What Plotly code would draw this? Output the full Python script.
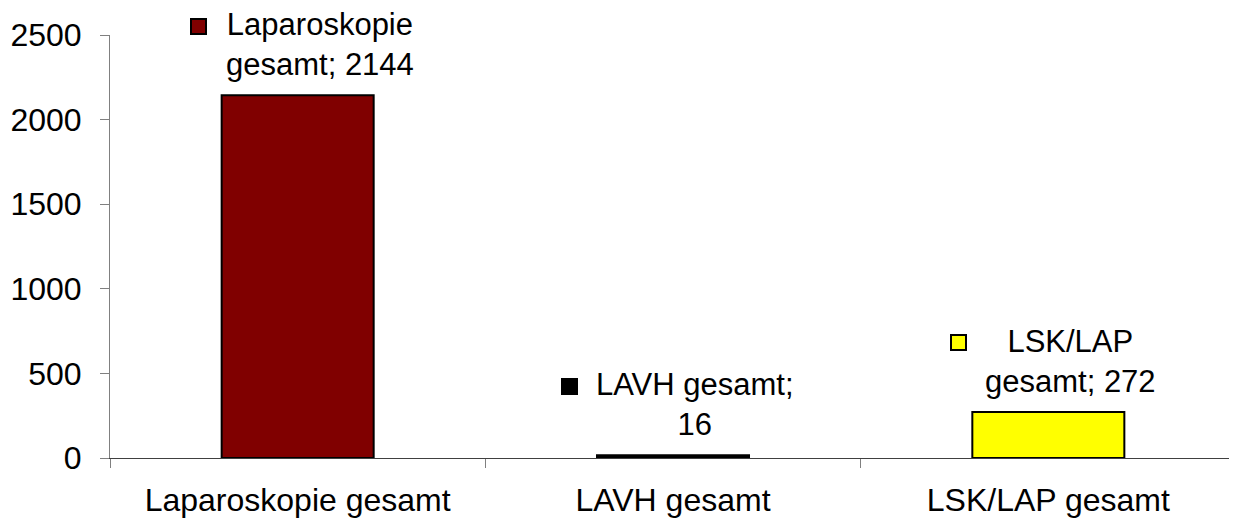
import plotly.graph_objects as go

categories = ["Laparoskopie gesamt", "LAVH gesamt", "LSK/LAP gesamt"]
values = [2144, 16, 272]
label_texts = ["Laparoskopie<br>gesamt; 2144", "LAVH gesamt;<br>16", "LSK/LAP<br>gesamt; 272"]
y_ticks = [0, 500, 1000, 1500, 2000, 2500]

# styling (not data)
colors = ["#800000", "#000000", "#FFFF00"]
key_xshift = [-99, -104, -90]
FONT = "Liberation Sans, Arial, sans-serif"

fig = go.Figure()
fig.add_trace(go.Bar(
    x=categories, y=values, width=0.405,
    marker=dict(color=colors, line=dict(color="#000000", width=2)),
    showlegend=False, hoverinfo="skip",
))

annotations = []
for cat, val, txt, col, kx in zip(categories, values, label_texts, colors, key_xshift):
    annotations.append(dict(
        x=cat, y=val, xref="x", yref="y", text=txt, showarrow=False,
        xanchor="center", yanchor="bottom", xshift=22, yshift=11,
        align="center", font=dict(family=FONT, size=31, color="#000000"),
    ))
    annotations.append(dict(
        x=cat, y=val, xref="x", yref="y", text=" ", showarrow=False,
        xanchor="center", yanchor="middle", xshift=kx, yshift=69,
        width=13, height=13, borderpad=0, borderwidth=2,
        bgcolor=col, bordercolor="#000000", font=dict(size=1),
    ))

# the page body adds an 8px offset, so the figure is sized to fit the window
fig.update_layout(
    width=1229, height=513,
    margin=dict(l=102, r=1, t=27, b=63),
    paper_bgcolor="white", plot_bgcolor="white",
    font=dict(family=FONT, size=31, color="#000000"),
    annotations=annotations,
    xaxis=dict(
        type="category", range=[-0.5, 2.5], tickson="boundaries",
        showline=True, linecolor="#404040", linewidth=1,
        ticks="outside", ticklen=9, tickcolor="#808080", tickwidth=1,
        showgrid=False, zeroline=False, ticklabelstandoff=14, automargin=False,
        tickfont=dict(family=FONT, size=32, color="#000000"),
    ),
    yaxis=dict(
        range=[0, 2500], tickvals=y_ticks, ticktext=[str(v) for v in y_ticks],
        showline=True, linecolor="#808080", linewidth=1,
        ticks="outside", ticklen=9, tickcolor="#808080", tickwidth=1,
        showgrid=False, zeroline=False, ticklabelstandoff=12, automargin=False,
        tickfont=dict(family=FONT, size=32, color="#000000"),
    ),
)

fig.write_html("out.html")
